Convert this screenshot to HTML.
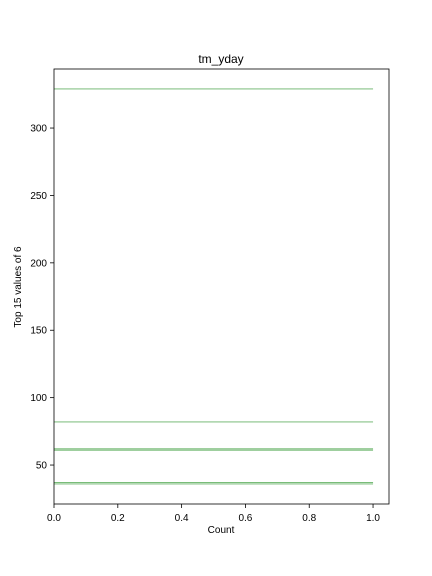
<!DOCTYPE html>
<html><head><meta charset="utf-8"><style>body{margin:0;background:#fff}svg{display:block;font-family:"Liberation Sans",sans-serif}</style></head>
<body>
<svg id="c" width="432" height="576"></svg>
<script>
const values = [329, 82, 62, 61, 37, 36];
const counts = [1, 1, 1, 1, 1, 1];
const xTicks = [0, 0.2, 0.4, 0.6, 0.8, 1.0];
const xTickLabels = ["0.0", "0.2", "0.4", "0.6", "0.8", "1.0"];
const yTicks = [50, 100, 150, 200, 250, 300];
const L=54,R=389,T=69,B=504;
const xmin=0,xmax=1.05,ymin=21.1,ymax=343.8;
const sx=v=>L+(v-xmin)/(xmax-xmin)*(R-L);
const sy=v=>B-(v-ymin)/(ymax-ymin)*(B-T);
const svg=document.getElementById('c');const NS='http://www.w3.org/2000/svg';
function mk(t,a,p){const e=document.createElementNS(NS,t);for(const k in a)e.setAttribute(k,a[k]);(p||svg).appendChild(e);return e;}
values.forEach((v,i)=>{const l=mk('line',{x1:sx(0),x2:sx(counts[i]),y1:sy(v),y2:sy(v),stroke:'#66b266','stroke-width':0.9});

});
const f=mk('rect',{x:L,y:T,width:R-L,height:B-T,fill:'none',stroke:'#000','stroke-width':0.8});


xTicks.forEach((v,i)=>{mk('line',{x1:sx(v),x2:sx(v),y1:B,y2:B+4,stroke:'#000','stroke-width':0.8});
const t=mk('text',{x:sx(v),y:B+17,'text-anchor':'middle','font-size':10});t.textContent=xTickLabels[i];

});
yTicks.forEach(v=>{mk('line',{x1:L-4,x2:L,y1:sy(v),y2:sy(v),stroke:'#000','stroke-width':0.8});
const t=mk('text',{x:L-7,y:sy(v)+3.5,'text-anchor':'end','font-size':10});t.textContent=v;

});
let t=mk('text',{x:221,y:63,'text-anchor':'middle','font-size':12});t.textContent='tm_yday';


t=mk('text',{x:221,y:533,'text-anchor':'middle','font-size':10});t.textContent='Count';


t=mk('text',{x:21,y:287,'text-anchor':'middle','font-size':10,transform:'rotate(-90 21 287)'});t.textContent='Top 15 values of 6';


</script>
</body></html>
